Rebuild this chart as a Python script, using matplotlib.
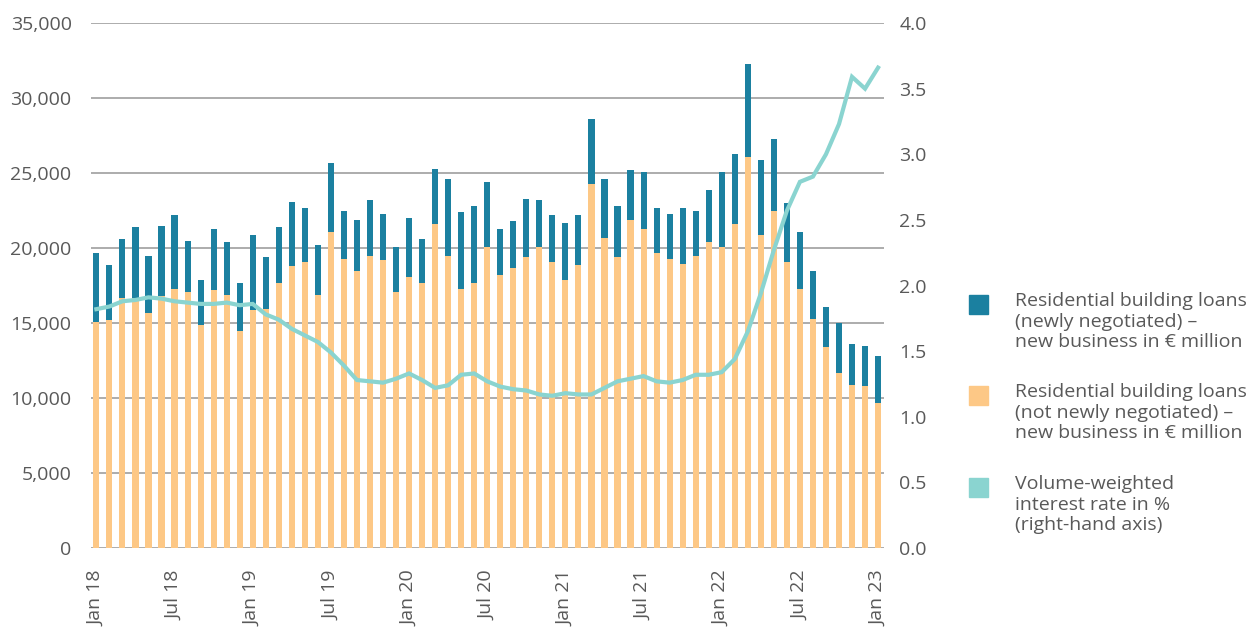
import numpy as np
import matplotlib
matplotlib.use("Agg")
from matplotlib import pyplot as plt
from matplotlib.patches import Rectangle

plt.rcParams['font.family'] = ['Open Sans', 'DejaVu Sans']

TEAL = '#1b80a0'
ORANGE = '#fdc886'
LINE = '#8ad4d0'
GRID = '#a6a6a6'
TEXT = '#595959'

# monthly data, Jan 2018 - Jan 2023
total = [19650, 18850, 20600, 21400, 19500, 21450, 22200, 20500, 17850, 21250,
         20400, 17650, 20900, 19400, 21400, 23100, 22650, 20200, 25650, 22500,
         21850, 23200, 22250, 20050, 22000, 20600, 25300, 24600, 22400, 22800,
         24400, 21300, 21800, 23250, 23200, 22200, 21700, 22200, 28600, 24600,
         22800, 25200, 25100, 22700, 22250, 22650, 22500, 23850, 25100, 26300,
         32300, 25850, 27300, 23000, 21050, 18500, 16100, 15000, 13600, 13500,
         12800]
not_newly = [15100, 15200, 16650, 16700, 15700, 16800, 17250, 17100, 14850, 17200,
             16900, 14450, 15900, 15950, 17700, 18800, 19050, 16900, 21100, 19250,
             18450, 19450, 19200, 17100, 18050, 17650, 21600, 19450, 17250, 17650,
             20100, 18200, 18650, 19400, 20050, 19100, 17850, 18900, 24300, 20700,
             19400, 21850, 21300, 19650, 19250, 18950, 19450, 20400, 20100, 21600,
             26050, 20850, 22500, 19100, 17250, 15300, 13400, 11700, 10850, 10800,
             9650]
rate = [1.82, 1.84, 1.88, 1.89, 1.91, 1.90, 1.88, 1.87, 1.86, 1.86,
        1.87, 1.85, 1.86, 1.78, 1.74, 1.67, 1.62, 1.57, 1.49, 1.39,
        1.28, 1.27, 1.26, 1.29, 1.33, 1.28, 1.22, 1.24, 1.32, 1.33,
        1.27, 1.23, 1.21, 1.20, 1.17, 1.16, 1.18, 1.17, 1.17, 1.22,
        1.27, 1.29, 1.31, 1.27, 1.26, 1.28, 1.32, 1.32, 1.34, 1.44,
        1.65, 1.94, 2.27, 2.57, 2.79, 2.83, 3.00, 3.23, 3.59, 3.50,
        3.66]
tick_labels = ['Jan 18', 'Jul 18', 'Jan 19', 'Jul 19', 'Jan 20', 'Jul 20',
               'Jan 21', 'Jul 21', 'Jan 22', 'Jul 22', 'Jan 23']
legend_labels = [
    'Residential building loans\n(newly negotiated) \u2013\nnew business in \u20ac million',
    'Residential building loans\n(not newly negotiated) \u2013\nnew business in \u20ac million',
    'Volume-weighted\ninterest rate in %\n(right-hand axis)',
]

x = np.arange(len(total))
newly = np.array(total) - np.array(not_newly)

fig = plt.figure(figsize=(12.59, 6.31), dpi=100)
ax = fig.add_axes([0.0723, 0.1315, 0.6298, 0.832])
ax2 = ax.twinx()

ax.bar(x, not_newly, width=0.47, color=ORANGE, zorder=2)
ax.bar(x, newly, bottom=not_newly, width=0.47, color=TEAL, zorder=2)
ax2.plot(x, rate, color=LINE, lw=3, solid_joinstyle='miter', zorder=3)

ax.set_xlim(-0.41, 60.45)
ax.set_ylim(0, 35000)
ax.set_yticks(np.arange(0, 35001, 5000))
ax.set_yticklabels([f'{v:,}' for v in range(0, 35001, 5000)])
ax2.set_ylim(0, 4.0)
ax2.set_yticks(np.arange(0, 4.01, 0.5))
ax2.set_yticklabels([f'{v:.1f}' for v in np.arange(0, 4.01, 0.5)])

ax.set_xticks(x[::6])
ax.set_xticklabels(tick_labels, rotation=90)

ax.grid(axis='y', color=GRID, lw=1.3, zorder=0)
ax.set_axisbelow(True)
for a in (ax, ax2):
    for s in a.spines.values():
        s.set_visible(False)
ax.tick_params(axis='both', length=0, labelsize=14, labelcolor=TEXT)
ax.tick_params(axis='y', pad=14)
ax.tick_params(axis='x', pad=16)
ax2.tick_params(axis='y', length=0, labelsize=14, labelcolor=TEXT, pad=11)

# legend drawn by hand on the right
W, H = 1259, 631
squares = [(969, 295, TEAL), (969, 386, ORANGE), (969, 478, LINE)]
for (sx, sy, c), lab in zip(squares, legend_labels):
    fig.add_artist(Rectangle((sx / W, 1 - (sy + 19) / H), 19 / W, 19 / H,
                             transform=fig.transFigure, color=c))
    fig.text(1015 / W, 1 - (sy - 3) / H, lab, fontsize=14, color=TEXT,
             va='top', ha='left', linespacing=1.18)

fig.savefig('out.png', dpi=100)
